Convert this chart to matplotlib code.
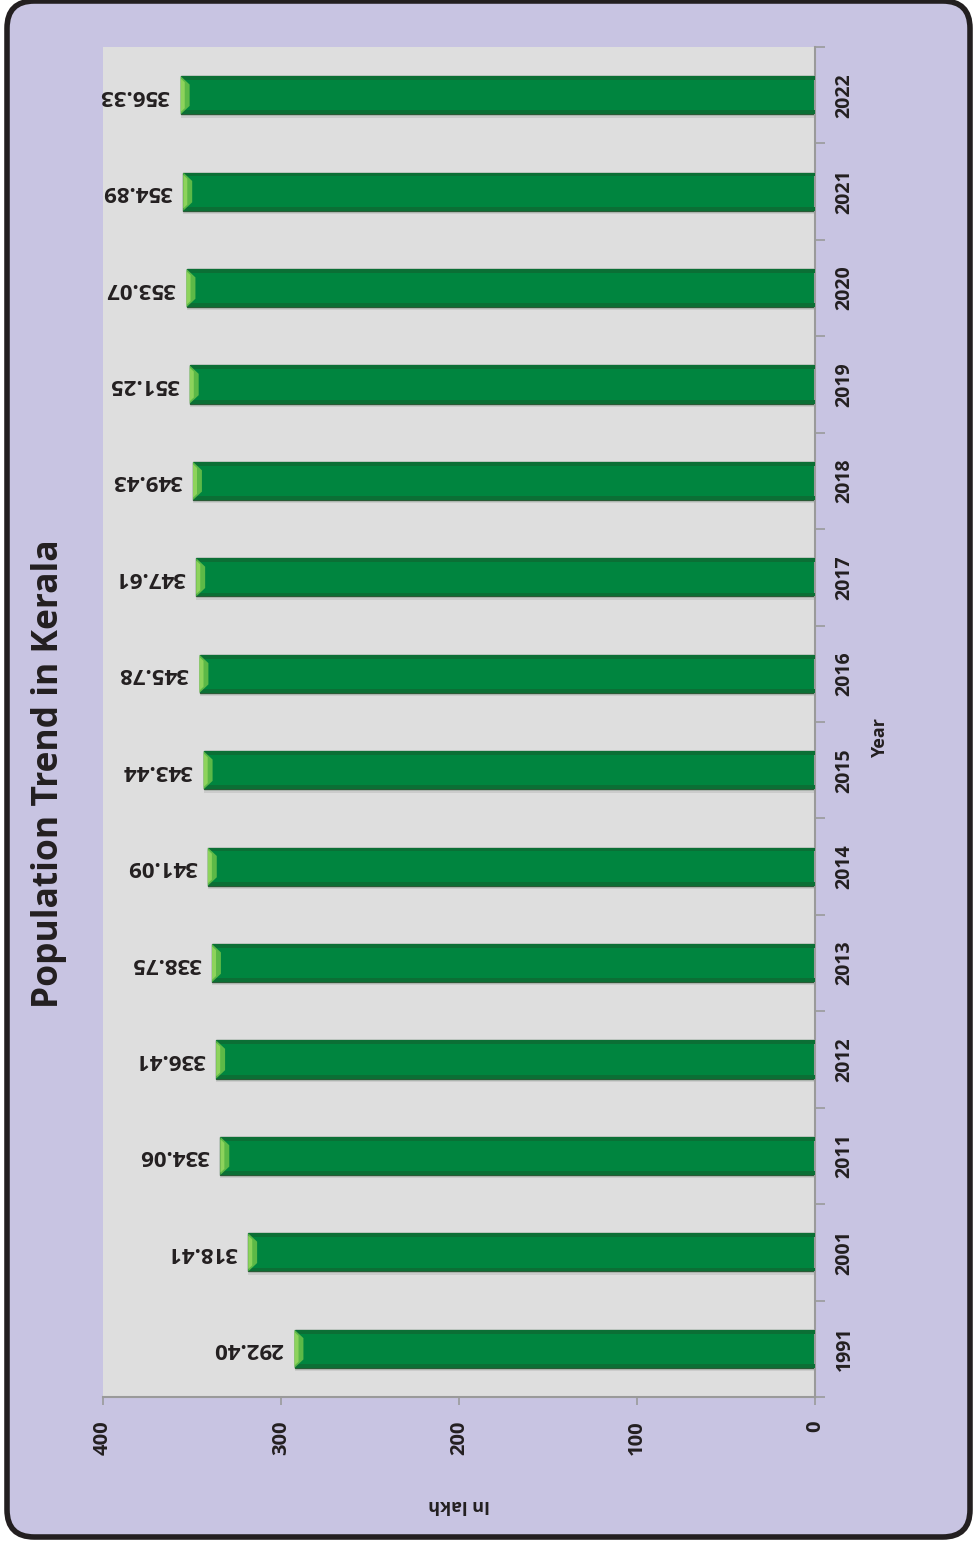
import matplotlib
matplotlib.use("Agg")
import matplotlib.pyplot as plt
from matplotlib.patches import FancyBboxPatch, Polygon

years = ["1991", "2001", "2011", "2012", "2013", "2014", "2015", "2016",
         "2017", "2018", "2019", "2020", "2021", "2022"]
population = [292.40, 318.41, 334.06, 336.41, 338.75, 341.09, 343.44, 345.78,
              347.61, 349.43, 351.25, 353.07, 354.89, 356.33]
value_ticks = [0, 100, 200, 300, 400]

plt.rcParams['font.family'] = ['Open Sans', 'DejaVu Sans']

W, H = 973, 1547
fig = plt.figure(figsize=(W / 100, H / 100), dpi=100)
fig.patch.set_facecolor('white')

# outer rounded frame
frame = FancyBboxPatch((7 / W, 10 / H), (963 / W), (1536 / H),
                       boxstyle="round,pad=0,rounding_size=0.028",
                       transform=fig.transFigure, facecolor='#C8C4E2',
                       edgecolor='#231F20', linewidth=4, mutation_aspect=W / H,
                       zorder=-10)
fig.patches.append(frame)

ax = fig.add_axes([103 / W, 1 - 1397 / H, (815 - 103) / W, (1397 - 47) / H])
ax.set_zorder(1)
ax.set_facecolor('#DEDEDE')

pos = list(range(len(years)))
bh = 0.395
# soft shadow
ax.barh([p - 0.035 for p in pos], population, height=bh, color='#C4C4C4',
        alpha=0.7, zorder=1)
# bar body
ax.barh(pos, population, height=bh, color='#00853F', edgecolor='#2A5A36',
        linewidth=1.0, zorder=2)
# bevel strips along top/bottom edges
edge = bh * 0.1
ax.barh([p + bh / 2 - edge / 2 for p in pos], population, height=edge,
        color='#0B6F35', edgecolor='none', zorder=3)
ax.barh([p - bh / 2 + edge / 2 for p in pos], population, height=edge,
        color='#0B6F35', edgecolor='none', zorder=3)
# light bevelled cap at bar end
cap = 5.0
for p, v in zip(pos, population):
    poly = Polygon([(v, p - bh / 2), (v, p + bh / 2),
                    (v - cap, p + bh / 2 - edge * 2.2), (v - cap, p - bh / 2 + edge * 2.2)],
                   closed=True, facecolor='#5CB947', edgecolor='none', zorder=4)
    ax.add_patch(poly)
    poly2 = Polygon([(v, p - bh / 2 + edge * 0.6), (v, p + bh / 2 - edge * 0.6),
                     (v - cap * 0.45, p + bh / 2 - edge * 1.6), (v - cap * 0.45, p - bh / 2 + edge * 1.6)],
                    closed=True, facecolor='#8DD35C', edgecolor='none', zorder=5)
    ax.add_patch(poly2)

for p, v in zip(pos, population):
    ax.annotate(f"{v:.2f}", xy=(v, p), xytext=(-8, 0), textcoords='offset points',
                rotation=180, ha='right', va='center', fontsize=16,
                fontweight='bold', color='#231F20', zorder=6)

ax.set_xlim(400, 0)
ax.set_ylim(-0.5, len(years) - 0.5)
ax.set_xticks(value_ticks)
ax.set_xticklabels([str(t) for t in value_ticks], rotation=90, fontsize=14.5,
                   fontweight='bold', color='#231F20')

ax.yaxis.tick_right()
ax.set_yticks(pos)
ax.set_yticklabels(years, rotation=90, fontsize=14, fontweight='bold',
                   color='#231F20', va='center')
ax.set_yticks([p + 0.5 for p in [-1] + pos], minor=True)
ax.tick_params(axis='y', which='major', length=0, pad=14)
ax.tick_params(axis='y', which='minor', length=7, color='#9A9A9A', width=1.2)
ax.tick_params(axis='x', which='major', length=6, color='#9A9A9A', width=1.2, pad=11)

for s in ['top', 'left']:
    ax.spines[s].set_visible(False)
for s in ['right', 'bottom']:
    ax.spines[s].set_color('#9A9A9A')
    ax.spines[s].set_linewidth(1.5)

fig.text(49 / W, 1 - 774 / H, "Population Trend in Kerala", rotation=90,
         ha='center', va='center', fontsize=25.5, fontweight='bold', color='#231F20')
fig.text(880 / W, 1 - 738 / H, "Year", rotation=90, ha='center', va='center',
         fontsize=13, fontweight='bold', color='#231F20')
fig.text(459 / W, 1 - 1505 / H, "In lakh", rotation=180, ha='center', va='center',
         fontsize=13, fontweight='bold', color='#231F20')

fig.savefig("out.png", dpi=100)
